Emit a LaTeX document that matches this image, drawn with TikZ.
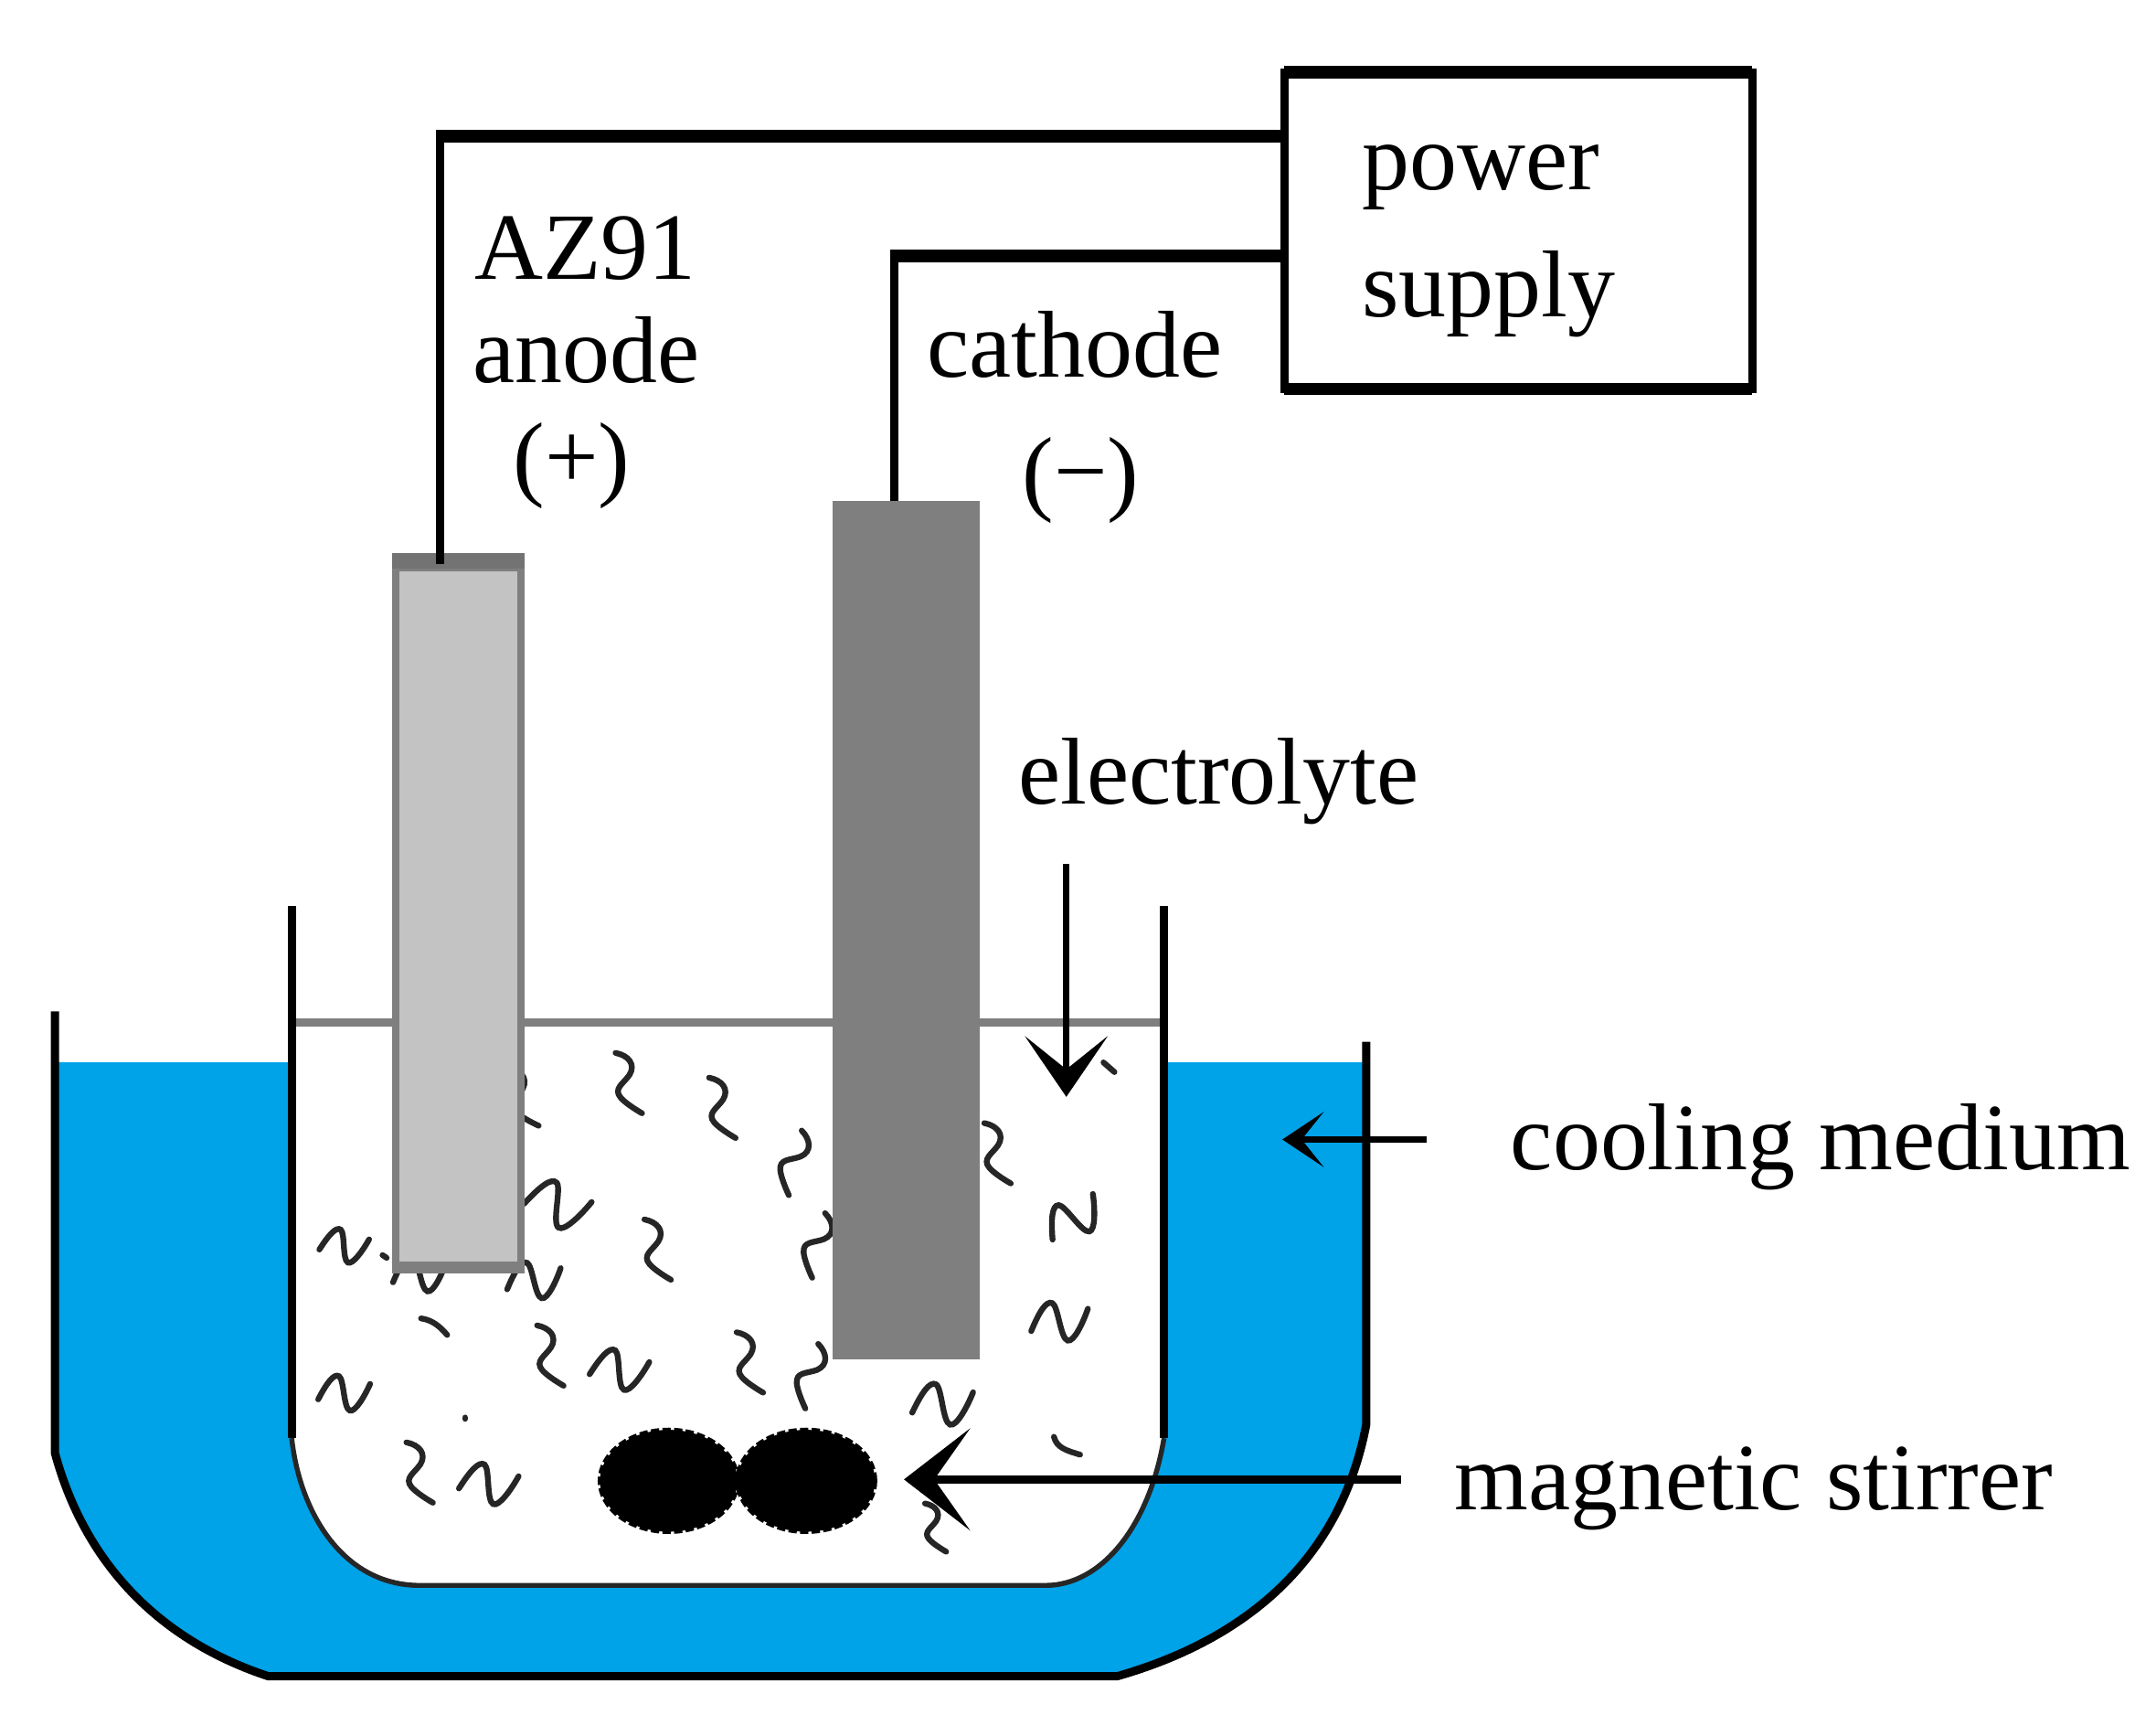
\documentclass[tikz,border=0pt]{standalone}
\usepackage{fontspec}
\setmainfont{Liberation Serif}
\usetikzlibrary{arrows.meta}
\definecolor{coolblue}{HTML}{00A2E8}
\definecolor{rodlight}{HTML}{C3C3C3}
\definecolor{roddark}{HTML}{7F7F7F}
\tikzstyle{every node}=[inner sep=0pt, outer sep=0pt]
\tikzstyle{lbl}=[anchor=base west, font=\fontsize{34.5}{34.5}\selectfont]
\tikzstyle{wall}=[line width=3pt, black]
\tikzstyle{hwire}=[line width=4.5pt, black]
\tikzstyle{vwire}=[line width=3pt, black]
\tikzstyle{pointer}=[line width=3pt, black]
\tikzstyle{bit}=[line width=2.1pt, line cap=round, black!85]
\tikzstyle{blob}=[fill=black, draw=black, line width=1.6pt, dash pattern=on 3pt off 1.2pt]
\tikzset{
  pics/zbit/.style={code={
    \draw[bit] (-11.5,-21) .. controls (-2,-20) and (4,-14) .. (0,-6) .. controls (-4,1) and (-11,5) .. (-5,11) .. controls (-2,14) and (5,18) .. (11.5,21);
  }},
  pics/wave/.style={code={
    \draw[bit] (-22,10) .. controls (-17,-6) and (-12,-16) .. (-7,-14) .. controls (-2,-12) and (2,14) .. (8,15) .. controls (13,16) and (19,0) .. (22,-12);
  }}
}

\begin{document}
\begin{tikzpicture}[x=0.5pt, y=-0.5pt]
\useasboundingbox (0,0) rectangle (1567,1261);
% Cooling bath
    \fill[coolblue] (40,772) -- (212,772) -- (212,1045) .. controls (218,1100) and (250,1152) .. (305,1152)
        -- (760,1152) .. controls (800,1152) and (835,1110) .. (846,1045) -- (846,772) -- (993,772) -- (993,1035)
        .. controls (975,1130) and (910,1190) .. (812,1218) -- (195,1218)
        .. controls (110,1190) and (60,1130) .. (40,1056) -- cycle;
% Walls
    \draw[wall] (40,735) -- (40,1056) .. controls (60,1130) and (110,1190) .. (195,1218) -- (812,1218)
        .. controls (910,1190) and (975,1130) .. (993,1035) -- (993,757);
    \draw[wall] (212,658) -- (212,1045);
    \draw[wall] (846,658) -- (846,1045);
    \draw[line width=1.8pt, black!85] (212,1045) .. controls (218,1100) and (250,1152) .. (305,1152)
        -- (760,1152) .. controls (800,1152) and (835,1110) .. (846,1045);
% Electrolyte level
    \draw[line width=3.2pt, roddark] (215,743) -- (843,743);
% Electrolyte bits
    \pic[rotate=0] at (380,797) {zbit};
    \pic[rotate=-5] at (457,787) {zbit};
    \pic[rotate=-5] at (525,805) {zbit};
    \pic[rotate=-40] at (578,845) {zbit};
    \pic[rotate=-5] at (725,838) {zbit};
    \pic[rotate=-5] at (478,908) {zbit};
    \pic[rotate=-40] at (595,905) {zbit};
    \pic[rotate=-5] at (400,985) {zbit};
    \pic[rotate=-5] at (545,990) {zbit};
    \pic[rotate=-40] at (590,1000) {zbit};
    \pic[rotate=-5] at (305,1070) {zbit};
    \pic[rotate=-5, scale=0.8] at (680,1110) {zbit};
    \pic[rotate=22, scale=0.9] at (780,885) {wave};
    \pic[rotate=-25] at (405,875) {wave};
    \pic[rotate=-15, scale=0.75] at (250,905) {wave};
    \pic[rotate=-5, scale=0.85] at (305,925) {wave};
    \pic[rotate=-5, scale=0.85] at (388,930) {wave};
    \pic[rotate=-5, scale=0.9] at (770,960) {wave};
    \pic[rotate=-15, scale=0.9] at (450,995) {wave};
    \pic[rotate=-8, scale=0.95] at (685,1020) {wave};
    \pic[rotate=-10, scale=0.8] at (250,1012) {wave};
    \pic[rotate=-15, scale=0.9] at (355,1078) {wave};
    \draw[bit] (306,958) .. controls (314,959) and (320,964) .. (325,970);
    \draw[bit] (766,1044) .. controls (768,1052) and (775,1054) .. (785,1057);
    \draw[bit] (802,772) -- (810,779);
    \draw[bit] (278,912) -- (281,914);
    \draw[bit] (338,1030) -- (338,1031);
% Anode
    \fill[roddark] (285,402) rectangle (381,925);
    \fill[rodlight] (290,415) rectangle (376,917);
    \fill[black!55] (285,402) rectangle (381,413);
    \coordinate (anodetop) at (320,410);
% Cathode
    \fill[roddark] (605,364) rectangle (712,988);
    \coordinate (cathodetop) at (650,364);
% Magnetic stirrer
    \draw[blob] (486,1076) ellipse [x radius=50, y radius=37];
    \draw[blob] (586,1076) ellipse [x radius=50, y radius=37];
% Power supply and wires
    \node[lbl, name=power] at (990,138) {power};
    \node[lbl, name=supply] at (990,230) {supply};
    \node[draw, line width=3pt, minimum width=170pt, minimum height=115pt, name=source] at (1103.5,167.5) {};
    \draw[hwire] (source.north west) -- (source.north east);
    \draw[hwire] (source.south west) -- (source.south east);
    \coordinate (anodebend) at (320,99);
    \coordinate (cathodebend) at (650,186);
    \draw[hwire] (source.west |- anodebend) -- ([xshift=-1.5pt]anodebend);
    \draw[vwire] (anodebend) -- (anodetop);
    \draw[hwire] (source.west |- cathodebend) -- ([xshift=-1.5pt]cathodebend);
    \draw[vwire] (cathodebend) -- (cathodetop);
% Labels
    \node[lbl, name=alloy] at (345,203) {AZ91};
    \node[lbl, name=anode] at (344,278) {anode};
    \node[lbl, name=plus] at (373,355) {(+)};
    \node[lbl, name=cathode] at (674,274) {cathode};
    \node[lbl, name=minus] at (743,366) {(−)};
    \node[lbl, name=electrolyte] at (740,584) {electrolyte};
    \node[lbl, name=cooling] at (1098,850) {cooling medium};
    \node[lbl, name=stirrer] at (1057,1097) {magnetic stirrer};
% Pointers
    \coordinate (a1) at (775,628);
    \coordinate (a2) at (775,797);
    \coordinate (b1) at (1037,828);
    \coordinate (b2) at (932,828);
    \coordinate (c1) at (1018,1075);
    \coordinate (c2) at (657,1075);
    \draw[pointer, line width=2.5pt, -{Stealth[length=22pt, width=30pt, inset=12pt]}] (a1) -- (a2);
    \draw[pointer, line width=2.2pt, -{Stealth[length=15pt, width=20pt, inset=8pt]}] (b1) -- (b2);
    \draw[pointer, line width=3.2pt, -{Stealth[length=24pt, width=37pt, inset=13pt]}] (c1) -- (c2);
\end{tikzpicture}
\end{document}
